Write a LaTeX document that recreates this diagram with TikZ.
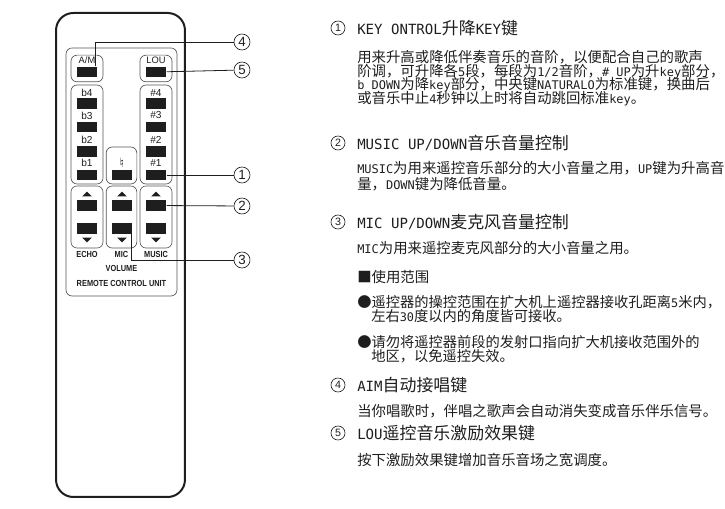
\documentclass[tikz,border=0pt]{standalone}
\usepackage{fontspec}
\setmainfont{Noto Sans CJK SC}
\newfontfamily\latn[Scale=0.83]{DejaVu Sans Mono}
\newfontfamily\keyfont{Liberation Sans}
\newfontfamily\keyboldfont[FakeStretch=0.84]{Liberation Sans Bold}
\newcommand{\la}[1]{{\latn #1}}
\newcommand{\dou}{\char"FF0C\relax}
\setlength{\lineskiplimit}{-6pt}
\setlength{\normallineskiplimit}{-6pt}
\usepackage{tikz}
\usetikzlibrary{arrows.meta,positioning,shapes.geometric}
\definecolor{ink}{HTML}{1E1E1E}

\begin{document}
\begin{tikzpicture}[
  x=0.75pt,y=-0.75pt,
  remote/.style={draw=ink,line width=1.5pt,rounded corners=13pt,minimum width=96.7pt,minimum height=363pt,inner sep=0pt},
  panel/.style={draw=ink!75,line width=0.5pt,rounded corners=4.5pt,inner sep=0pt,minimum width=#1},
  keybtn/.style={fill=ink,minimum width=15.5pt,minimum height=8pt,inner sep=0pt},
  keytxt/.style={inner sep=0pt,text=ink,font=\keyfont\fontsize{7.6}{8}\selectfont},
  keybold/.style={inner sep=0pt,text=ink,font=\keyboldfont\fontsize{6.6}{8}\selectfont},
  triup/.style={fill=ink,isosceles triangle,isosceles triangle apex angle=90,shape border rotate=90,minimum height=3.6pt,inner sep=0pt},
  tridown/.style={fill=ink,isosceles triangle,isosceles triangle apex angle=90,shape border rotate=270,minimum height=3.6pt,inner sep=0pt},
  callout/.style={draw=ink,circle,line width=0.5pt,minimum size=12pt,inner sep=0pt,text=ink,font=\keyfont\fontsize{10}{10}\selectfont},
  itemno/.style={draw=ink,circle,line width=0.5pt,minimum size=10.5pt,inner sep=0pt,text=ink,font=\keyfont\fontsize{8}{8}\selectfont},
  head/.style={anchor=west,inner sep=0pt,text=ink,font=\fontsize{12.7}{14}\selectfont},
  body/.style={anchor=north west,inner sep=0pt,align=left,text=ink,font=\fontsize{10.8}{10.3}\selectfont},
  note/.style={anchor=north west,inner sep=0pt,align=left,text=ink,font=\fontsize{10.7}{10.9}\selectfont},
  lead/.style={draw=ink,line width=0.6pt}
]
  \useasboundingbox (0,0) rectangle (725,509);
  % remote outline
  \node[remote] (remote) at (120.5,255) {};
  \node[panel=83.2pt,minimum height=186pt] (front) at (121.5,172) {};
  % key groups
  \node[panel=24pt,minimum height=20pt] (amgroup) at (87,68.5) {};
  \node[panel=24pt,minimum height=20pt] (lougroup) at (156,68.5) {};
  \node[panel=24pt,minimum height=74.2pt] (flatgroup) at (87,134.5) {};
  \node[panel=24pt,minimum height=74.2pt] (sharpgroup) at (156,134.5) {};
  \node[panel=23pt,minimum height=27.7pt] (natgroup) at (121.5,165.5) {};
  \node[panel=24pt,minimum height=46.5pt] (echogroup) at (87,217) {};
  \node[panel=23pt,minimum height=46.5pt] (micgroup) at (121.5,217) {};
  \node[panel=24pt,minimum height=46.5pt] (musicgroup) at (156,217) {};
  % top keys
  \node[keytxt,font=\keyfont\fontsize{7}{8}\selectfont] (amlabel) at (87,60.5) {A/M};
  \node[keybtn] (amkey) at (87,72) {};
  \node[keytxt,font=\keyfont\fontsize{7}{8}\selectfont] (loulabel) at (156,60.5) {LOU};
  \node[keybtn] (loukey) at (156,72) {};
  % flat keys
  \node[keytxt] (b4label) at (87,93) {b4};
  \node[keybtn] (b4key) at (87,103.5) {};
  \node[keytxt] (b3label) at (87,115.5) {b3};
  \node[keybtn] (b3key) at (87,127) {};
  \node[keytxt] (b2label) at (87,139.5) {b2};
  \node[keybtn] (b2key) at (87,151.5) {};
  \node[keytxt] (b1label) at (87,163) {b1};
  \node[keybtn] (b1key) at (87,175) {};
  % sharp keys
  \node[keytxt] (s4label) at (156,93) {\#4};
  \node[keybtn] (s4key) at (156,103.5) {};
  \node[keytxt] (s3label) at (156,115.5) {\#3};
  \node[keybtn] (s3key) at (156,127) {};
  \node[keytxt] (s2label) at (156,140) {\#2};
  \node[keybtn] (s2key) at (156,151.5) {};
  \node[keytxt] (s1label) at (156,163) {\#1};
  \node[keybtn] (s1key) at (156,175) {};
  % natural key
  \node[keytxt,font=\fontspec{DejaVu Sans}\fontsize{9.5}{10}\selectfont] (natlabel) at (122,163) {♮};
  \node[keybtn] (natkey) at (122,175) {};
  % volume keys
  \node[triup] (echotri) at (87,194.5) {};
  \node[keybtn] (echoup) at (87,205.5) {};
  \node[keybtn] (echodown) at (87,228.5) {};
  \node[tridown] (echotrib) at (87,239.5) {};
  \node[triup] (mictri) at (122,194.5) {};
  \node[keybtn] (micup) at (122,205.5) {};
  \node[keybtn] (micdown) at (122,228.5) {};
  \node[tridown] (mictrib) at (122,239.5) {};
  \node[triup] (musictri) at (156,194.5) {};
  \node[keybtn] (musicup) at (156,205.5) {};
  \node[keybtn] (musicdown) at (156,228.5) {};
  \node[tridown] (musictrib) at (156,239.5) {};
  % labels under the keys
  \node[keybold] (echolabel) at (87,254.5) {ECHO};
  \node[keybold] (miclabel) at (121.5,254.5) {MIC};
  \node[keybold] (musiclabel) at (156,254.5) {MUSIC};
  \node[keybold] (volume) at (121.5,268.5) {VOLUME};
  \node[keybold] (unit) at (121.5,283) {REMOTE CONTROL UNIT};
  % numbered callouts
  \node[callout] (callout4) at (242,42) {4};
  \node[callout] (callout5) at (242,70) {5};
  \node[callout] (callout1) at (242,175) {1};
  \node[callout] (callout2) at (242,206) {2};
  \node[callout] (callout3) at (242,260) {3};
  \draw[lead] ([xshift=6pt]amkey.north) |- (callout4);
  \draw[lead] (loukey) -- (callout5);
  \draw[lead] (s1key) -- (callout1);
  \draw[lead] (musicup) -- (callout2);
  \draw[lead] ([xshift=7pt]micdown.south) |- (callout3);
  % right column
  \node[itemno] (item1) at (338,28) {1};
  \node[head] (title1) at (357,28) {\la{KEY ONTROL}升降\la{KEY}键};
  \node[body] (text1) at (357,50) {用来升高或降低伴奏音乐的音阶\dou{}以便配合自己的歌声\\
    阶调\dou{}可升降各\la{5}段\dou{}每段为\la{1/2}音阶\dou{}\la{\# UP}为升\la{key}部分\dou\\
    \la{b DOWN}为降\la{key}部分\dou{}中央键\la{NATURALO}为标准键\dou{}换曲后\\
    或音乐中止\la{4}秒钟以上时将自动跳回标准\la{key}。};
  \node[itemno] (item2) at (338,143) {2};
  \node[head] (title2) at (357,143) {\la{MUSIC UP/DOWN}音乐音量控制};
  \node[body,font=\fontsize{10.8}{12}\selectfont] (text2) at (357,161) {\la{MUSIC}为用来遥控音乐部分的大小音量之用\dou{}\la{UP}键为升高音\\
    量\dou{}\la{DOWN}键为降低音量。};
  \node[itemno] (item3) at (338,222) {3};
  \node[head] (title3) at (357,222) {\la{MIC UP/DOWN}麦克风音量控制};
  \node[body] (text3) at (357,241) {\la{MIC}为用来遥控麦克风部分的大小音量之用。};
  \node[note,font=\fontsize{10.8}{12}\selectfont] (range) at (357,270) {■使用范围};
  \node[note] (note1) at (357,295) {●遥控器的操控范围在扩大机上遥控器接收孔距离\la{5}米内\dou\\
    \hspace*{10.5pt}左右\la{30}度以内的角度皆可接收。};
  \node[note] (note2) at (357,335) {●请勿将遥控器前段的发射口指向扩大机接收范围外的\\
    \hspace*{10.5pt}地区\dou{}以免遥控失效。};
  \node[itemno] (item4) at (338,385) {4};
  \node[head] (title4) at (357,385) {\la{AIM}自动接唱键};
  \node[body] (text4) at (357,404) {当你唱歌时\dou{}伴唱之歌声会自动消失变成音乐伴乐信号。};
  \node[itemno] (item5) at (338,433) {5};
  \node[head] (title5) at (357,433) {\la{LOU}遥控音乐激励效果键};
  \node[body] (text5) at (357,453) {按下激励效果键增加音乐音场之宽调度。};
\end{tikzpicture}
\end{document}
